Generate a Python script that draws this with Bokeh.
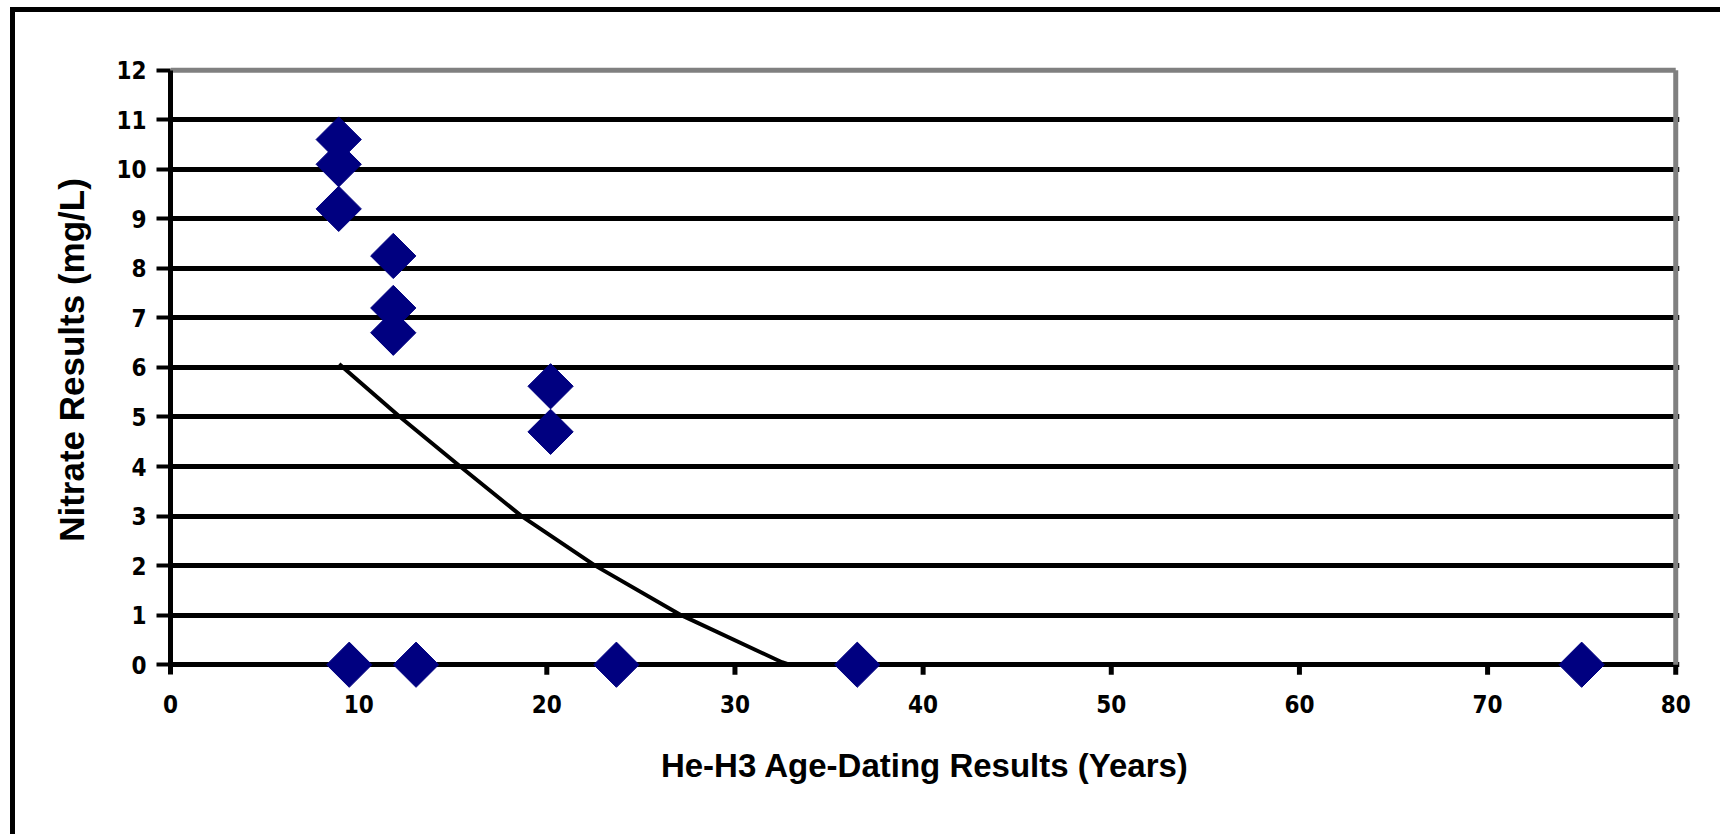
import math
from bokeh.plotting import figure
from bokeh.models import Range1d, FixedTicker
from bokeh.embed import file_html
from bokeh.resources import INLINE

# Data
age_years = [8.94, 8.94, 8.94, 11.84, 11.84, 11.84, 20.2, 20.2,
             9.5, 13.05, 23.7, 36.5, 75.0]
nitrate_mg_l = [10.6, 10.1, 9.2, 8.25, 7.2, 6.7, 5.62, 4.7,
                0.0, 0.0, 0.0, 0.0, 0.0]

trend_x = [8.96, 12.2, 15.4, 18.66, 22.57, 27.14, 32.5, 32.9]
trend_y = [6.07, 5.0, 4.0, 3.0, 2.0, 1.0, 0.05, 0.0]

x_ticks = [0, 10, 20, 30, 40, 50, 60, 70, 80]
y_ticks = [0, 1, 2, 3, 4, 5, 6, 7, 8, 9, 10, 11, 12]
grid_levels = [0, 1, 2, 3, 4, 5, 6, 7, 8, 9, 10, 11]

x_title = "He-H3 Age-Dating Results (Years)"
y_title = "Nitrate Results (mg/L)"

W, H = 1710, 827
TICK_LEN = 0.2  # x-axis tick length below the zero line (data units of y)

p = figure(width=W, height=H, output_backend="svg", toolbar_location=None,
           x_range=Range1d(0, 80.2), y_range=Range1d(-0.5, 12.8),
           min_border_left=155, min_border_right=46,
           min_border_top=18, min_border_bottom=150,
           background_fill_color="white", border_fill_color="white")
p.outline_line_color = None
p.margin = (7, 0, 0, 10)
p.styles = {"border-top": "5px solid black", "border-left": "5px solid black",
            "overflow": "hidden"}

tick_font = "'Liberation Sans Narrow', 'DejaVu Sans Condensed', sans-serif"
title_font = "'Liberation Sans', Arial, sans-serif"

for ax in (p.xaxis[0], p.yaxis[0]):
    ax.major_tick_line_color = "black"
    ax.major_tick_line_width = 4
    ax.major_tick_in = 0
    ax.minor_tick_line_color = None
    ax.major_label_text_font = tick_font
    ax.major_label_text_font_style = "bold"
    ax.major_label_text_font_size = "24px"
    ax.major_label_text_color = "black"
    ax.axis_label_text_font = title_font
    ax.axis_label_text_font_style = "bold"
    ax.axis_label_text_color = "black"

# y axis: real axis line on the left edge, running a tick-length below zero
p.yaxis.ticker = FixedTicker(ticks=y_ticks)
p.yaxis.bounds = (-TICK_LEN, 12)
p.yaxis.axis_line_color = "black"
p.yaxis.axis_line_width = 5
p.yaxis.major_tick_out = 14
p.yaxis.major_label_standoff = 10
p.yaxis.axis_label = y_title
p.yaxis.axis_label_text_font_size = "35px"
p.yaxis.axis_label_standoff = 22

# x axis: labels only (the zero line is drawn by the grid)
p.xaxis.ticker = FixedTicker(ticks=x_ticks)
p.xaxis.axis_line_color = None
p.xaxis.major_tick_line_color = None
p.xaxis.major_tick_out = 0
p.xaxis.major_label_standoff = 5
p.xaxis.axis_label = x_title
p.xaxis.axis_label_text_font_size = "33px"
p.xaxis.axis_label_standoff = 31

# grid
p.xgrid.grid_line_color = None
p.ygrid.ticker = FixedTicker(ticks=grid_levels)
p.ygrid.grid_line_color = "black"
p.ygrid.grid_line_width = 5

# x ticks hanging below the zero line
p.segment(x0=x_ticks[1:], y0=[0] * (len(x_ticks) - 1),
          x1=x_ticks[1:], y1=[-TICK_LEN] * (len(x_ticks) - 1),
          line_color="black", line_width=5)

# gray top & right plot border (limited to the plotting area)
p.segment(x0=[0, 80], y0=[12, 0], x1=[80, 80], y1=[12, 12],
          line_color="#808080", line_width=5)

# trend line
p.line(trend_x, trend_y, line_color="black", line_width=4)

# data markers
p.scatter(age_years, nitrate_mg_l, marker="square", angle=math.pi / 4, size=32,
          fill_color="#000080", line_color="#000080", line_width=1)

open("out.html", "w").write(file_html(p, INLINE))
